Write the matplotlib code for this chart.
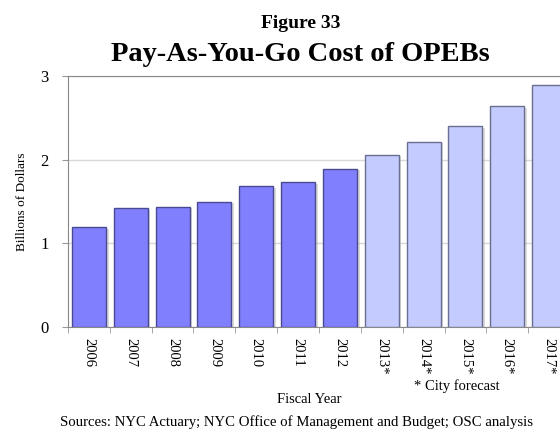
import matplotlib
matplotlib.use("Agg")
import matplotlib.pyplot as plt
import matplotlib.patheffects as pe
import numpy as np

years = ["2006", "2007", "2008", "2009", "2010", "2011", "2012",
         "2013*", "2014*", "2015*", "2016*", "2017*"]
cost = [1.19, 1.42, 1.44, 1.50, 1.68, 1.73, 1.89,
        2.06, 2.21, 2.40, 2.64, 2.89]
forecast = [False]*7 + [True]*5

plt.rcParams['font.family'] = ['Liberation Serif', 'DejaVu Serif']

fig = plt.figure(figsize=(5.6, 4.34), dpi=100)
ax = fig.add_axes([68/560, 107/434, 502/560, 251/434])

x = np.arange(len(years))
cols = ['#c4ccff' if f else '#8080ff' for f in forecast]
edges = ['#6a6e90' if f else '#4a4a90' for f in forecast]
bars = ax.bar(x, cost, width=0.81, color=cols, edgecolor=edges, linewidth=1, zorder=3)
for b in bars:
    b.set_path_effects([pe.SimplePatchShadow(offset=(2, -1), shadow_rgbFace='#999999', alpha=0.35), pe.Normal()])

ax.set_xlim(-0.5, len(years) - 0.5)
ax.set_ylim(0, 3)
ax.set_yticks([0, 1, 2, 3])
ax.set_yticklabels(["0", "1", "2", "3"], fontsize=12)
ax.grid(axis='y', color='#d8d8d8', linewidth=1, zorder=0)

ax.set_xticks(x)
ax.set_xticklabels(years, rotation=-90, fontsize=10.5)
ax.set_xticks(np.arange(len(years) + 1) - 0.5, minor=True)
ax.tick_params(axis='x', which='major', length=0, pad=8)
ax.tick_params(axis='x', which='minor', length=4, color='#999999')
ax.tick_params(axis='y', length=4, color='#999999', pad=10)

for s in ['top', 'left', 'bottom', 'right']:
    ax.spines[s].set_color('#888888')
ax.spines['right'].set_visible(False)

ax.set_ylabel("Billions of Dollars", fontsize=9.5, labelpad=9)
fig.text(0.552, 0.079, "Fiscal Year", ha='center', va='center', fontsize=10.5)
fig.text(0.816, 0.111, "* City forecast", ha='center', va='center', fontsize=10.5)
fig.text(0.53, 0.028, "Sources: NYC Actuary; NYC Office of Management and Budget; OSC analysis",
         ha='center', va='center', fontsize=10.6)

fig.text(0.537, 0.935, "Figure 33", ha='center', va='baseline', fontsize=14, fontweight='bold')
fig.text(0.537, 0.859, "Pay-As-You-Go Cost of OPEBs", ha='center', va='baseline', fontsize=20.5, fontweight='bold')

fig.savefig("out.png", dpi=100)
